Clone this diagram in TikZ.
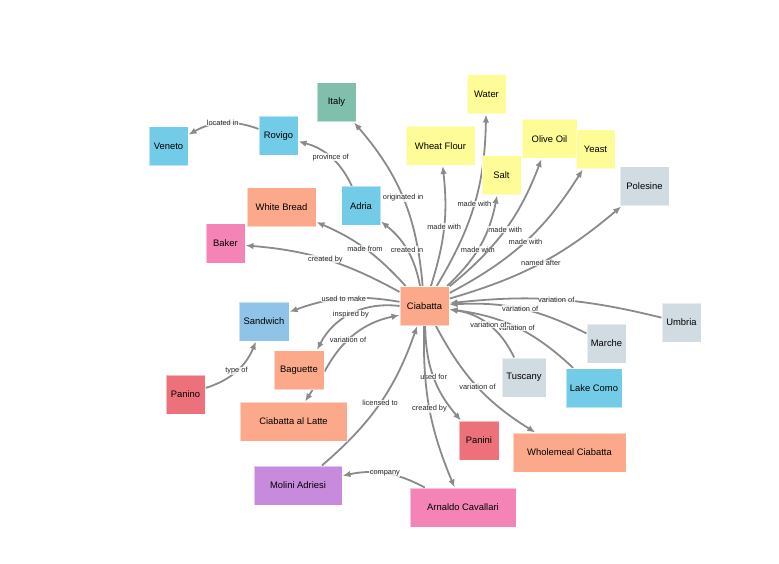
\documentclass[tikz,border=0pt]{standalone}
\usepackage{fontspec}
\setmainfont{Liberation Sans}
\usetikzlibrary{arrows.meta,backgrounds}
\definecolor{salmon}{HTML}{FCA98B}
\definecolor{teal}{HTML}{80BFAC}
\definecolor{sky}{HTML}{72CCE8}
\definecolor{lightsky}{HTML}{8FC4E8}
\definecolor{pinkish}{HTML}{F484B6}
\definecolor{redpink}{HTML}{ED717A}
\definecolor{lemon}{HTML}{FDFC97}
\definecolor{slate}{HTML}{D0DBE2}
\definecolor{lilac}{HTML}{C78ADD}
\definecolor{linkgray}{HTML}{8A8A8A}

\begin{document}
\begin{tikzpicture}[x=1pt, y=1pt,
	box/.style={fill=#1, draw=white, draw opacity=0.5, line width=1pt, minimum width=39, minimum height=39, inner sep=2pt, font=\fontsize{9.4}{11}\selectfont},
	rel/.style={draw=linkgray, line width=1.8pt, -{Latex[length=8pt,width=6.5pt]}},
	lbl/.style={font=\fontsize{7.4}{9}\selectfont, text=black!85, fill=white, fill opacity=0.8, text opacity=1, inner sep=0.6pt}]
		\useasboundingbox (0,0) rectangle (779,-564);
		\node [box=salmon, minimum width=49] (cia) at (424.5,-306) {Ciabatta};
		\node [box=teal] (italy) at (336.5,-102.5) {Italy};
		\node [box=sky] (veneto) at (168.5,-146.5) {Veneto};
		\node [box=sky] (rovigo) at (278.5,-136) {Rovigo};
		\node [box=salmon, minimum width=69] (wbread) at (281.5,-207.5) {White Bread};
		\node [box=sky] (adria) at (361,-206) {Adria};
		\node [box=pinkish] (baker) at (225.5,-243.5) {Baker};
		\node [box=lemon, minimum width=69] (flour) at (440.5,-146) {Wheat Flour};
		\node [box=lemon] (water) at (486.5,-94.5) {Water};
		\node [box=lemon] (salt) at (501.5,-175.5) {Salt};
		\node [box=lemon, minimum width=55] (oil) at (549.5,-139) {Olive Oil};
		\node [box=lemon] (yeast) at (595.5,-149.5) {Yeast};
		\node [box=slate, minimum width=49] (polesine) at (644.5,-186.5) {Polesine};
		\node [box=lightsky, minimum width=50] (sandwich) at (264,-321.5) {Sandwich};
		\node [box=redpink] (panino) at (185.5,-394.5) {Panino};
		\node [box=salmon, minimum width=50] (baguette) at (299,-370) {Baguette};
		\node [box=salmon, minimum width=107] (latte) at (293.5,-421.5) {Ciabatta al Latte};
		\node [box=lilac, minimum width=88] (molini) at (298,-485.5) {Molini Adriesi};
		\node [box=pinkish, minimum width=106] (arnaldo) at (463,-507.5) {Arnaldo Cavallari};
		\node [box=redpink, minimum width=40] (panini) at (479,-440.5) {Panini};
		\node [box=salmon, minimum width=113] (wholemeal) at (569.5,-452.5) {Wholemeal Ciabatta};
		\node [box=slate, minimum width=44] (tuscany) at (524,-377.5) {Tuscany};
		\node [box=sky, minimum width=56] (como) at (594,-388) {Lake Como};
		\node [box=slate] (marche) at (606.5,-343.5) {Marche};
		\node [box=slate] (umbria) at (681.5,-322.5) {Umbria};
		\begin{scope}[on background layer]
		\draw [rel] (cia) to[bend right=18] node[lbl] {originated in} (italy);
		\draw [rel] (cia) to[bend right=20] node[lbl] {created in} (adria);
		\draw [rel] (cia) to[bend right=12] node[lbl] {made from} (wbread);
		\draw [rel] (cia) to[bend right=12] node[lbl] {created by} (baker);
		\draw [rel] (adria) to[bend right=25] node[lbl] {province of} (rovigo);
		\draw [rel] (rovigo) to[bend right=25] node[lbl] {located in} (veneto);
		\draw [rel] (cia) to[bend right=12] node[lbl] {made with} (flour);
		\draw [rel] (cia) to[bend right=15] node[lbl] {made with} (water);
		\draw [rel] (cia) to[bend right=18] node[lbl, pos=0.45] {made with} (salt);
		\draw [rel] (cia) to[bend right=15] node[lbl] {made with} (oil);
		\draw [rel] (cia) to[bend right=15] node[lbl] {made with} (yeast);
		\draw [rel] (cia) to[bend right=12] node[lbl] {named after} (polesine);
		\draw [rel] (umbria) to[bend right=10] node[lbl] {variation of} (cia);
		\draw [rel] (marche) to[bend right=15] node[lbl] {variation of} (cia);
		\draw [rel] (como) to[bend right=18] node[lbl] {variation of} (cia);
		\draw [rel] (tuscany) to[bend right=28] node[lbl] {variation of} (cia);
		\draw [rel] (cia) to[bend right=15] node[lbl] {variation of} (wholemeal);
		\draw [rel] (cia) to[bend right=20] node[lbl] {used for} (panini);
		\draw [rel] (cia) to[bend right=12] node[lbl] {created by} (arnaldo);
		\draw [rel] (molini) to[bend right=15] node[lbl] {licensed to} (cia);
		\draw [rel] (arnaldo) to[bend right=20] node[lbl] {company} (molini);
		\draw [rel] (cia) to[bend right=15] node[lbl] {used to make} (sandwich);
		\draw [rel] (cia.180) to[bend right=35] node[lbl] {inspired by} (baguette.48);
		\draw [rel] (baguette.-4) to[bend left=25] node[lbl, pos=0.4] {variation of} (cia.200);
		\draw [rel] (panino) to[bend right=25] node[lbl] {type of} (sandwich);
		\draw [rel] (baguette.-56) -- (latte.60);
		\end{scope}
	\end{tikzpicture}
\end{document}
